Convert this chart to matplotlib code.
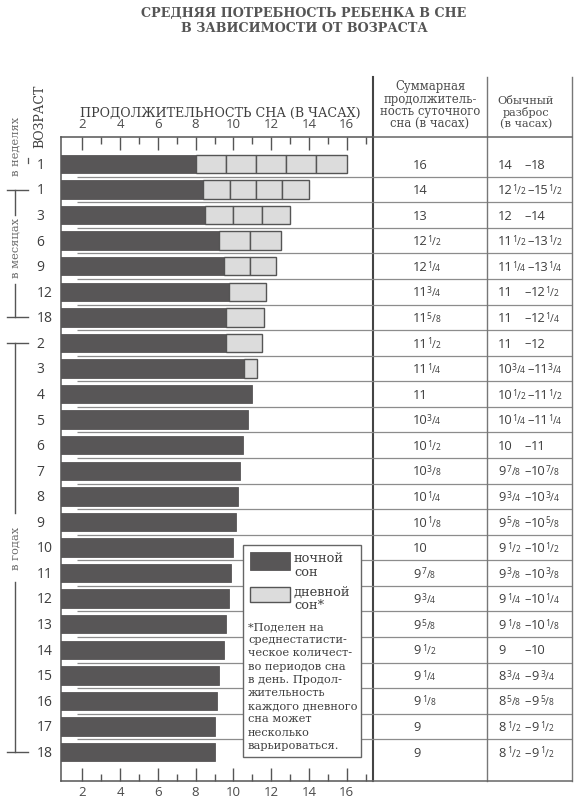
import matplotlib
matplotlib.use('Agg')
import matplotlib.pyplot as plt
from matplotlib.patches import Rectangle
from matplotlib.transforms import blended_transform_factory, offset_copy

# ---------------- data ----------------
age_labels = ['1', '1', '3', '6', '9', '12', '18',
              '2', '3', '4', '5', '6', '7', '8', '9', '10',
              '11', '12', '13', '14', '15', '16', '17', '18']
night_hours = [8, 8.4, 8.5, 9.25, 9.5, 9.75, 9.625, 9.6, 10.55, 11, 10.75,
               10.5, 10.375, 10.25, 10.125, 10, 9.875, 9.75, 9.625, 9.5,
               9.25, 9.125, 9, 9]
total_hours = [16, 14, 13, 12.5, 12.25, 11.75, 11.625, 11.5, 11.25, 11, 10.75,
               10.5, 10.375, 10.25, 10.125, 10, 9.875, 9.75, 9.625, 9.5,
               9.25, 9.125, 9, 9]
nap_count = [5, 4, 3, 2, 2, 1, 1, 1, 1, 0, 0, 0, 0, 0, 0, 0, 0, 0, 0, 0, 0, 0, 0, 0]
total_text = ['16', '14', '13', '12 1/2', '12 1/4', '11 3/4', '11 5/8', '11 1/2',
              '11 1/4', '11', '10 3/4', '10 1/2', '10 3/8', '10 1/4', '10 1/8',
              '10', '9 7/8', '9 3/4', '9 5/8', '9 1/2', '9 1/4', '9 1/8', '9', '9']
range_low = ['14', '12 1/2', '12', '11 1/2', '11 1/4', '11', '11', '11',
             '10 3/4', '10 1/2', '10 1/4', '10', '9 7/8', '9 3/4', '9 5/8',
             '9 1/2', '9 3/8', '9 1/4', '9 1/8', '9', '8 3/4', '8 5/8', '8 1/2', '8 1/2']
range_high = ['18', '15 1/2', '14', '13 1/2', '13 1/4', '12 1/2', '12 1/4', '12',
              '11 3/4', '11 1/2', '11 1/4', '11', '10 7/8', '10 3/4', '10 5/8',
              '10 1/2', '10 3/8', '10 1/4', '10 1/8', '10', '9 3/4', '9 5/8',
              '9 1/2', '9 1/2']
major_ticks = [2, 4, 6, 8, 10, 12, 14, 16]
minor_ticks = [3, 5, 7, 9, 11, 13, 15, 17]

title_lines = ['СРЕДНЯЯ ПОТРЕБНОСТЬ РЕБЕНКА В СНЕ', 'В ЗАВИСИМОСТИ ОТ ВОЗРАСТА']
axis_title = 'ПРОДОЛЖИТЕЛЬНОСТЬ СНА (В ЧАСАХ)'
col1_header = ['Суммарная', 'продолжитель-', 'ность суточного', 'сна (в часах)']
col2_header = ['Обычный', 'разброс', '(в часах)']
legend_labels = [['ночной', 'сон'], ['дневной', 'сон*']]
footnote = ['*Поделен на', 'среднестатисти-', 'ческое количест-', 'во периодов сна',
            'в день. Продол-', 'жительность', 'каждого дневного', 'сна может',
            'несколько', 'варьироваться.']

# ---------------- style ----------------
W, H = 584, 802
DARK = '#585657'
LIGHT = '#dcdcdc'
EDGE = '#555555'
TXT = '#3e3e3e'
GRAY = '#6a6a6a'
SERIF = 'DejaVu Serif'
SANS = 'Open Sans'

fig = plt.figure(figsize=(W / 100, H / 100), dpi=100)
fig.patch.set_facecolor('white')

# chart axes geometry in pixels
AX_L, AX_R, AX_T, AX_B = 61, 373, 136.5, 781
ax = fig.add_axes([AX_L / W, 1 - AX_B / H, (AX_R - AX_L) / W, (AX_B - AX_T) / H])
px_per_h = (346.7 - 82.3) / 14.0
ax.set_xlim(2 + (AX_L - 82.3) / px_per_h, 2 + (AX_R - 82.3) / px_per_h)
row_px = (752 - 164) / 23.0
ax.set_ylim(23 + (AX_B - 752) / row_px, -(164 - AX_T) / row_px)

rows = list(range(len(age_labels)))
BAR_H = 0.72
ax.barh(rows, night_hours, left=0, height=BAR_H, color=DARK, edgecolor=DARK,
        linewidth=0.6, zorder=3)
for r, (n, t, k) in enumerate(zip(night_hours, total_hours, nap_count)):
    if k == 0:
        continue
    w = (t - n) / k
    ax.barh([r] * k, [w] * k, left=[n + j * w for j in range(k)], height=BAR_H,
            color=LIGHT, edgecolor=EDGE, linewidth=1.0, zorder=4)

for side in ['left', 'top', 'bottom']:
    ax.spines[side].set_color('#555555')
    ax.spines[side].set_linewidth(1.1)
ax.spines['right'].set_color('#444444')
ax.spines['right'].set_linewidth(1.5)

ax.set_xticks(major_ticks)
ax.set_xticks(minor_ticks, minor=True)
ax.set_yticks([])
ax.tick_params(axis='x', which='both', direction='in', top=True, bottom=True,
               labeltop=True, labelbottom=True, color='#555555', width=1.0,
               pad=3.6, labelsize=9.5, labelcolor='#4a4a4a')
ax.tick_params(axis='x', which='major', length=9.5)
ax.tick_params(axis='x', which='minor', length=5)
for lab in ax.get_xticklabels():
    lab.set_fontfamily(SANS)

# overlay in pixel coordinates
ov = fig.add_axes([0, 0, 1, 1], zorder=10)
ov.set_autoscale_on(False)
ov.set_xlim(0, W)
ov.set_ylim(H, 0)
ov.axis('off')
ov.patch.set_alpha(0)
rowtr = blended_transform_factory(ov.transData, ax.transData)

# separators
for r in rows[:-1]:
    ov.plot([77, 373], [r + 0.5, r + 0.5], transform=rowtr, color='#8c8c8c',
            lw=0.9, zorder=1, solid_capstyle='butt')
    ov.plot([373, 572], [r + 0.5, r + 0.5], transform=rowtr, color='#8c8c8c',
            lw=0.9, zorder=1, solid_capstyle='butt')

# table frame lines
ov.plot([373, 373], [77, AX_T], color='#444444', lw=1.5, zorder=2)
ov.plot([486.7, 486.7], [77, AX_B], color='#777777', lw=1.0, zorder=2)
ov.plot([572, 572], [77, AX_B], color='#777777', lw=1.0, zorder=2)
ov.plot([373, 572], [AX_T, AX_T], color='#666666', lw=1.1, zorder=2)
ov.plot([373, 572], [AX_B, AX_B], color='#666666', lw=1.1, zorder=2)

# title
ov.text(304, 13.5, title_lines[0], ha='center', va='center', family=SERIF,
        fontweight='bold', fontsize=9.2, color='#555555')
ov.text(304, 28.5, title_lines[1], ha='center', va='center', family=SERIF,
        fontweight='bold', fontsize=9.2, color='#555555')

# headers
ov.text(80, 113, axis_title, ha='left', va='center', family=SERIF, fontsize=9.1,
        color=TXT)
ov.text(40, 116, 'ВОЗРАСТ', ha='center', va='center', rotation=90, family=SERIF,
        fontsize=9.0, color=TXT)
for ln, y in zip(col1_header, [86.5, 99, 111.5, 124]):
    ov.text(430, y, ln, ha='center', va='center', family=SERIF, fontsize=8.4,
            color='#4a4a4a')
for ln, y in zip(col2_header, [100.5, 112.5, 124.5]):
    ov.text(526, y, ln, ha='center', va='center', family=SERIF, fontsize=8.1,
            color='#4a4a4a')

# age group brackets
LC = '#555555'
ov.text(15, 146, 'в неделях', ha='center', va='center', rotation=90, family=SERIF,
        fontsize=8.2, color=GRAY)
ov.plot([28, 28], [-0.25, -0.05], transform=rowtr, color=LC, lw=0.9)
# months
ov.plot([7, 28], [1, 1], transform=rowtr, color=LC, lw=1.0)
ov.plot([15, 15], [1, 2.0], transform=rowtr, color=LC, lw=1.0)
ov.text(15, 3.3, 'в месяцах', ha='center', va='center', rotation=90, family=SERIF,
        fontsize=8.2, color=GRAY, transform=rowtr)
ov.plot([15, 15], [4.7, 6], transform=rowtr, color=LC, lw=1.0)
ov.plot([7, 28], [6, 6], transform=rowtr, color=LC, lw=1.0)
# years
ov.plot([7, 28], [7, 7], transform=rowtr, color=LC, lw=1.0)
ov.plot([15, 15], [7, 13.65], transform=rowtr, color=LC, lw=1.0)
ov.text(15, 15.05, 'в годах', ha='center', va='center', rotation=90, family=SERIF,
        fontsize=8.2, color=GRAY, transform=rowtr)
ov.plot([15, 15], [16.35, 23], transform=rowtr, color=LC, lw=1.0)
ov.plot([7, 28], [23, 23], transform=rowtr, color=LC, lw=1.0)

# row labels
for r, lab in zip(rows, age_labels):
    ov.text(36.5, r + 0.19, lab, ha='left', va='baseline', family=SANS,
            fontsize=10, color=TXT, transform=rowtr)

renderer = fig.canvas.get_renderer()


def draw_value(x, r, s, size=9.3, color=TXT):
    parts = s.split()
    whole = parts[0]
    y = r + 0.18
    t = ov.text(x, y, whole, ha='left', va='baseline', family=SANS, fontsize=size,
                color=color, transform=rowtr)
    w = t.get_window_extent(renderer).width
    if len(parts) == 1:
        return x + w
    num, den = parts[1].split('/')
    fpx = size * 100 / 72.0
    off = w + (1.5 if len(whole) == 1 else -0.8)
    small = size * 0.66
    raise_px = fpx * 0.72 - small * 100 / 72.0 * 0.72
    t2 = ov.text(x, y, num, ha='left', va='baseline', family=SANS, fontsize=small,
                 color=color,
                 transform=offset_copy(rowtr, fig=fig, x=off, y=raise_px, units='dots'))
    off += t2.get_window_extent(renderer).width - 0.2
    t3 = ov.text(x, y, '/', ha='left', va='baseline', family=SANS, fontsize=size * 0.8,
                 color=color,
                 transform=offset_copy(rowtr, fig=fig, x=off, y=0, units='dots'))
    off += t3.get_window_extent(renderer).width - 0.2
    t4 = ov.text(x, y, den, ha='left', va='baseline', family=SANS, fontsize=small,
                 color=color,
                 transform=offset_copy(rowtr, fig=fig, x=off, y=0, units='dots'))
    off += t4.get_window_extent(renderer).width
    return x + off


for r in rows:
    draw_value(413, r, total_text[r])
    end = draw_value(498, r, range_low[r])
    dx = max(524.5, end + 2.0)
    t = ov.text(dx, r + 0.18, '–', ha='left', va='baseline', family=SANS,
                fontsize=9.3, color=TXT, transform=rowtr)
    dw = t.get_window_extent(renderer).width
    draw_value(dx + dw + 0.3, r, range_high[r])

# legend box
ov.add_patch(Rectangle((243, 545), 118, 212, facecolor='white', edgecolor='#666666',
                       lw=1.0, zorder=5))
ov.add_patch(Rectangle((250, 552), 40, 18, facecolor=DARK, edgecolor=DARK, lw=0.6,
                       zorder=6))
ov.add_patch(Rectangle((250, 587), 40, 15, facecolor=LIGHT, edgecolor=EDGE, lw=1.0,
                       zorder=6))
for (l1, l2), (y1, y2) in zip(legend_labels, [(558, 572), (592, 605.5)]):
    ov.text(294, y1, l1, ha='left', va='center', family=SERIF, fontsize=9.4,
            color=TXT, zorder=7)
    ov.text(294, y2, l2, ha='left', va='center', family=SERIF, fontsize=9.4,
            color=TXT, zorder=7)
for i, ln in enumerate(footnote):
    ov.text(248, 627 + i * 13.2, ln, ha='left', va='center', family=SERIF,
            fontsize=8.2, color=TXT, zorder=7)

fig.savefig('out.png', dpi=100, facecolor='white')
